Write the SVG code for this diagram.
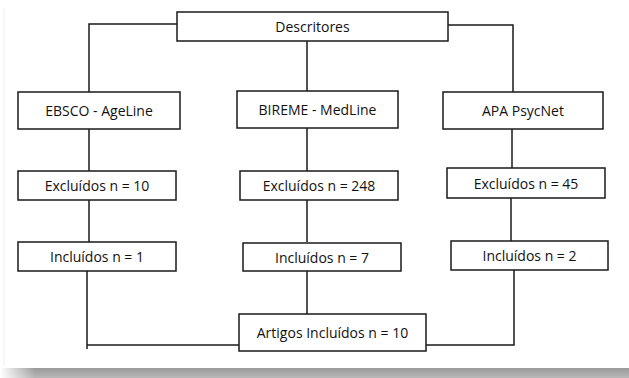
<svg xmlns="http://www.w3.org/2000/svg" width="629" height="378" viewBox="0 0 629 378">
<style>
.box{fill:#fff;stroke:#1a1a1a;stroke-width:1.5}
.lbl{font-family:"Open Sans","Noto Sans",sans-serif;font-size:14px;fill:#111;text-anchor:middle;dominant-baseline:central}
.con{fill:none;stroke:#1a1a1a;stroke-width:1.5}
</style>
<defs>
<linearGradient id="sh" x1="0" y1="0" x2="0" y2="1">
<stop offset="0" stop-color="#9a9a9a"/>
<stop offset="1" stop-color="#b8b8b8"/>
</linearGradient>
<linearGradient id="shl" x1="0" y1="0" x2="1" y2="0">
<stop offset="0" stop-color="#fff"/>
<stop offset="1" stop-color="#fff" stop-opacity="0"/>
</linearGradient>
</defs>
<rect x="0" y="0" width="629" height="378" fill="#fff"/>
<rect x="0" y="368" width="629" height="10" fill="url(#sh)"/>
<rect x="0" y="368" width="35" height="10" fill="url(#shl)"/>
<line x1="4" y1="8" x2="4" y2="365" stroke="#eeeeee" stroke-width="1"/>
<g id="connectors">
<polyline class="con" points="177,24 89,24 89,92"/>
<polyline class="con" points="448,25 513,25 513,92"/>
<line class="con" x1="307" y1="41" x2="307" y2="91"/>
<line class="con" x1="89" y1="129" x2="89" y2="171"/>
<line class="con" x1="307" y1="128" x2="307" y2="171"/>
<line class="con" x1="512" y1="129" x2="512" y2="168"/>
<line class="con" x1="89" y1="200" x2="89" y2="242"/>
<line class="con" x1="307" y1="200" x2="307" y2="242"/>
<line class="con" x1="511" y1="198" x2="511" y2="241"/>
<line class="con" x1="307" y1="271" x2="307" y2="314"/>
<polyline class="con" points="87,271 87,349"/>
<line class="con" x1="87" y1="345" x2="239" y2="345"/>
<polyline class="con" points="514,270 514,345 426,345"/>
</g>
<g id="descritores"><rect class="box" x="177" y="12" width="271" height="29"/><text class="lbl" x="312.5" y="26.5">Descritores</text></g>
<g id="ebsco"><rect class="box" x="18" y="92" width="162" height="37"/><text class="lbl" x="99" y="110.5">EBSCO - AgeLine</text></g>
<g id="bireme"><rect class="box" x="237" y="91" width="161" height="37"/><text class="lbl" x="317.5" y="109.5">BIREME - MedLine</text></g>
<g id="apa"><rect class="box" x="443" y="92" width="160" height="37"/><text class="lbl" x="523" y="110.5">APA PsycNet</text></g>
<g id="excl10"><rect class="box" x="18" y="171" width="158" height="29"/><text class="lbl" x="97" y="185.5">Excluídos n = 10</text></g>
<g id="excl248"><rect class="box" x="240" y="171" width="158" height="29"/><text class="lbl" x="319" y="185.5">Excluídos n = 248</text></g>
<g id="excl45"><rect class="box" x="447" y="168" width="158" height="30"/><text class="lbl" x="526" y="183">Excluídos n = 45</text></g>
<g id="incl1"><rect class="box" x="18" y="242" width="158" height="29"/><text class="lbl" x="97" y="256.5">Incluídos n = 1</text></g>
<g id="incl7"><rect class="box" x="243" y="243" width="158" height="28"/><text class="lbl" x="322" y="257">Incluídos n = 7</text></g>
<g id="incl2"><rect class="box" x="451" y="241" width="157" height="29"/><text class="lbl" x="529.5" y="255.5">Incluídos n = 2</text></g>
<g id="artigos"><rect class="box" x="239" y="314" width="187" height="37"/><text class="lbl" x="332.5" y="332.5">Artigos Incluídos n = 10</text></g>
</svg>
